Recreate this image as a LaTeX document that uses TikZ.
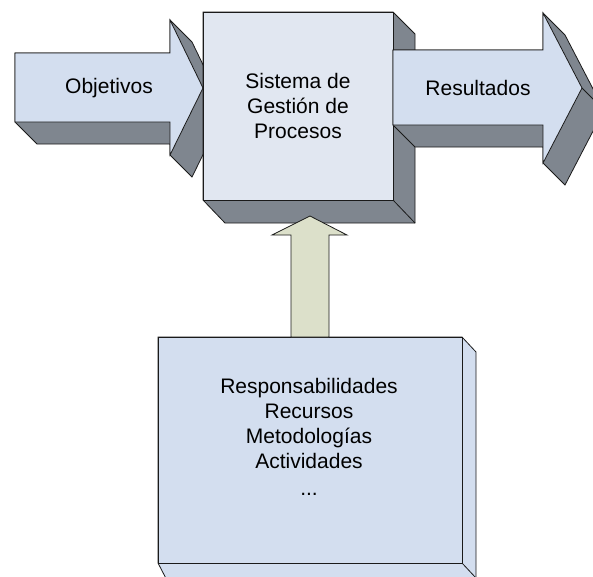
\documentclass[tikz,border=0pt]{standalone}
\usepackage{fontspec}
\setmainfont{Liberation Sans}
\definecolor{faceblue}{HTML}{D3DEEF}
\definecolor{boxfront}{HTML}{E1E7F1}
\definecolor{shade}{HTML}{7F868F}
\definecolor{olivelight}{HTML}{DCE0CA}
\definecolor{edgeline}{HTML}{1A1A1A}
\tikzset{
  solid3d/.style={draw=edgeline, line width=0.8pt, line join=miter},
  shadeface/.style={solid3d, fill=shade},
  frontface/.style={solid3d, fill=faceblue},
  label/.style={font=\fontsize{21}{25}\selectfont, align=center, inner sep=0pt, text=black}
}
\begin{document}
\begin{tikzpicture}[x=1pt,y=-1pt]
\useasboundingbox (0,0) rectangle (593,576);

% --- input arrow: extruded outline, then front face
\filldraw[shadeface] (15,53) -- (170,53) -- (170,20) -- (192,42) -- (225,110)
  -- (192,177) -- (170,155) -- (170,144) -- (37,144) -- (15,122) -- cycle;
\filldraw[frontface] (15,53) -- (170,53) -- (170,20) -- (203,88) -- (170,155)
  -- (170,122) -- (15,122) -- cycle;
\node[label] (obj) at (109,88) {Objetivos};

% --- central process block
\filldraw[shadeface] (203,12) -- (393,12) -- (415,34) -- (415,223) -- (225,223)
  -- (203,200) -- cycle;
\draw[solid3d] (393,200) -- (415,223);
\filldraw[solid3d, fill=boxfront] (203,12) rectangle (393,200);
\node[label] (sgp) at (298,106) {Sistema de\\Gestión de\\Procesos};

% --- output arrow
\filldraw[shadeface] (393,50) -- (543,50) -- (543,13) -- (565,35) -- (604,110)
  -- (565,185) -- (543,163) -- (543,147) -- (415,147) -- (393,125) -- cycle;
\draw[solid3d] (582,88) -- (604,110);
\filldraw[frontface] (393,50) -- (543,50) -- (543,13) -- (582,88) -- (543,163)
  -- (543,125) -- (393,125) -- cycle;
\node[label] (res) at (478,88) {Resultados};

% --- resources block
\filldraw[solid3d, fill=faceblue] (158,337) -- (462,337) -- (476,352) -- (476,590)
  -- (172,590) -- (158,563) -- cycle;
\draw[solid3d] (462,563) -- (476,578);
\filldraw[frontface] (158,337) rectangle (462,563);
\node[label] (rec) at (309,437) {Responsabilidades\\Recursos\\Metodologías\\Actividades\\[2pt]...};

% --- support arrow feeding the central block
\filldraw[solid3d, fill=olivelight] (291,337) -- (291,235) -- (272,235) -- (310,216)
  -- (347,235) -- (329,235) -- (329,337) -- cycle;
\end{tikzpicture}
\end{document}
